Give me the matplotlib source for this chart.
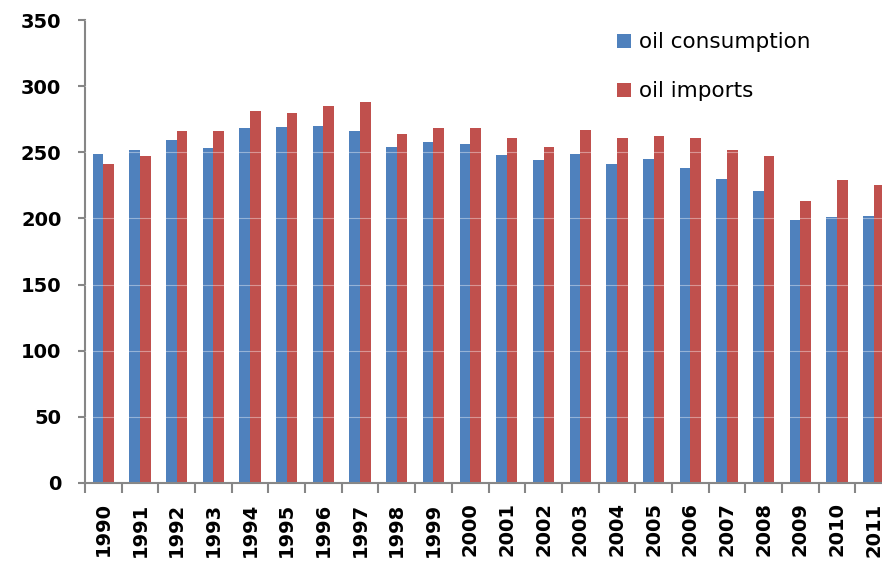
import numpy as np
import matplotlib
matplotlib.use("Agg")
import matplotlib.pyplot as plt

years = [str(y) for y in range(1990, 2012)]
consumption = [249, 252, 259, 253, 268, 269, 270, 266, 254, 258, 256,
               248, 244, 249, 241, 245, 238, 230, 221, 199, 201, 202]
imports = [241, 247, 266, 266, 281, 280, 285, 288, 264, 268, 268,
           261, 254, 267, 261, 262, 261, 252, 247, 213, 229, 225]

blue = '#4F81BD'
red = '#C0504D'
axis_grey = '#868686'

fig = plt.figure(figsize=(8.82, 5.63), dpi=100)
W, H = 882, 563
# axes runs a bit past the right edge of the picture, as in the original
ax = fig.add_axes([85 / W, 80 / H, 807 / W, 463 / H])

x = np.arange(len(years))
w = 0.29
ax.bar(x - w / 2, consumption, w, color=blue, label='oil consumption', zorder=2)
ax.bar(x + w / 2, imports, w, color=red, label='oil imports', zorder=2)

ax.set_xlim(-0.5, len(years) - 0.5)
ax.set_ylim(0, 350)
ax.set_yticks(range(0, 351, 50))
ax.yaxis.grid(True, color='white', linewidth=0.8, alpha=0.4, zorder=3)
ax.set_axisbelow(False)

for s in ['top', 'right']:
    ax.spines[s].set_visible(False)
for s in ['left', 'bottom']:
    ax.spines[s].set_color(axis_grey)
    ax.spines[s].set_linewidth(1.5)

ax.set_xticks(x)
ax.set_xticklabels(years, rotation=90, fontsize=14, fontweight='bold')
ax.set_xticks(np.append(x - 0.5, x[-1] + 0.5), minor=True)
ax.tick_params(axis='x', which='major', length=0, pad=14)
ax.tick_params(axis='x', which='minor', length=7, width=1.5, color=axis_grey)
ax.tick_params(axis='y', which='major', length=5, width=1.5, color=axis_grey,
               labelsize=14, pad=12)
for lbl in ax.get_yticklabels():
    lbl.set_fontweight('bold')

fig.legend(loc='upper left', bbox_to_anchor=(598 / W, 1 - 13 / H),
           frameon=False, fontsize=15.5, handlelength=0.65, handleheight=0.65,
           handletextpad=0.35, labelspacing=1.35)

fig.savefig('out.png', dpi=100)
